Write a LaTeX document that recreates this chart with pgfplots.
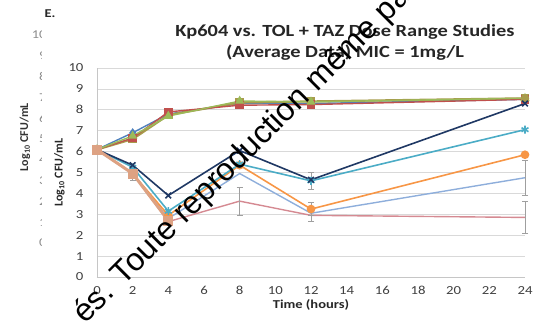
\documentclass[border=0pt]{standalone}
\usepackage{pgfplots}
\pgfplotsset{compat=1.18}
\usepackage{fontspec}
\setmainfont{Carlito}[FakeStretch=1.2]
\newfontfamily\plainfont{Carlito}
\newfontfamily\wmfont{Liberation Sans}
\definecolor{cnavy}{HTML}{1F3864}
\definecolor{cteal}{HTML}{4BACC6}
\definecolor{corange}{HTML}{F79646}
\definecolor{clblue}{HTML}{8EAEDB}
\definecolor{cpink}{HTML}{D58A92}
\definecolor{ctan}{HTML}{DDA283}
\definecolor{cred}{HTML}{C0504D}
\definecolor{cgreen}{HTML}{9BBB59}
\definecolor{cblue}{HTML}{4F81BD}
\definecolor{colive}{HTML}{A89C4C}
\begin{document}
\begin{tikzpicture}
\path[use as bounding box] (-97pt,-45pt) rectangle (449pt,277pt);
% ghost layer of an underlying figure
\begin{scope}
\clip (-97pt,-45pt) rectangle (-55pt,277pt);
\foreach \k in {0,...,10} {
  \node[anchor=east, text=black!45, font=\fontsize{12}{14}\selectfont] at (-47pt,{(34+20.8*\k)*1pt}) {\k};
}
\end{scope}
\node[rotate=90, text=black!80, font=\plainfont\fontsize{12}{14}\selectfont\bfseries] at (-72pt,140pt) {Log\textsubscript{10} CFU/mL};
\node[font=\fontsize{12}{15}\selectfont\bfseries, text=black!85] at (-47pt,263pt) {E.};
\begin{axis}[
  anchor=origin,
  width=428pt, height=209pt, scale only axis,
  xmin=0, xmax=24, ymin=0, ymax=10,
  xtick={0,2,...,24}, ytick={0,1,...,10},
  axis lines=left, axis line style={draw=gray!45, -},
  major tick length=0pt,
  ymajorgrids, grid style={gray!30, line width=0.8pt},
  tick label style={font=\fontsize{12.3}{14}\selectfont, text=black!75},
  /pgf/number format/assume math mode=true,
  xticklabel style={yshift=-6pt},
  yticklabel style={xshift=-10pt},
  xlabel={\bfseries Time (hours)},
  xlabel style={font=\fontsize{12.1}{14}\selectfont, text=black!85, yshift=2pt},
  ylabel={\bfseries Log\textsubscript{10} CFU/mL},
  ylabel style={font=\plainfont\fontsize{12}{14}\selectfont, text=black!85, yshift=-3pt},
  clip=false,
  error bars/y dir=both, error bars/y explicit,
  error bars/error bar style={gray!75, line width=0.8pt},
  error bars/error mark options={gray!75, rotate=90, mark size=3pt, line width=0.8pt},
]
% growth controls
\addplot[cblue, line width=1.4pt, mark=diamond*, mark size=3.5pt] coordinates {(0,6.1)(2,6.9)(4,7.8)(8,8.3)(12,8.3)(24,8.5)};
\addplot[colive, line width=2.2pt, mark=square*, mark size=3.2pt] coordinates {(0,6.1)(2,6.6)(4,7.75)(8,8.35)(12,8.4)(24,8.55)};
\addplot[cred, line width=1.4pt, mark=square*, mark size=3.5pt] coordinates {(0,6.1)(2,6.65)(4,7.9)(8,8.22)(12,8.25)(24,8.5)};
\addplot[cgreen, line width=1.4pt, mark=triangle*, mark size=4pt] coordinates {(0,6.1)(2,6.75)(4,7.7)(8,8.42)(12,8.38)(24,8.55)};
\addplot[colive, only marks, mark=*, mark size=4pt] coordinates {(24,8.55)};
% treated
\addplot[cpink, line width=1.4pt, mark=none] coordinates {(0,6.1)(2,4.95)(4,2.65)(8,3.63) +- (0,0.67)(12,2.95) +- (0,0.3)(24,2.85) +- (0,0.75)};
\addplot[clblue, line width=1.4pt, mark=none] coordinates {(0,6.1)(2,4.95)(4,2.8)(8,4.95)(12,3.05)(24,4.75) +- (0,0.85)};
\addplot[corange, line width=1.6pt, mark=*, mark size=3.5pt] coordinates {(0,6.1)(2,4.95)(4,2.95)(8,5.35)(12,3.25) +- (0,0.3)(24,5.85)};
\addplot[cteal, line width=1.6pt, mark=asterisk, mark size=4pt] coordinates {(0,6.1)(2,5.25)(4,3.15)(8,5.4)(12,4.6) +- (0,0.42)(24,7.05)};
\addplot[cnavy, line width=1.6pt, mark=x, mark size=4pt] coordinates {(0,6.1)(2,5.35)(4,3.9)(8,6.05)(12,4.65)(24,8.3)};
\addplot[ctan, line width=3pt, mark=square*, mark size=3.5pt] coordinates {(0,6.1)(2,4.95) +- (0,0.35)(4,2.7)};
\end{axis}
\node[align=center, font=\fontsize{17}{21}\selectfont\bfseries, text=black!85] at (248pt,234.5pt) {Kp604 vs. TOL + TAZ Dose Range Studies\\(Average Data) MIC = 1mg/L};
% watermark
\node[font=\wmfont\fontsize{32}{36}\selectfont, rotate=45, anchor=base west, inner sep=0pt] at (-12pt,-48pt) {és. Toute reproduction même partielle};
\end{tikzpicture}
\end{document}
